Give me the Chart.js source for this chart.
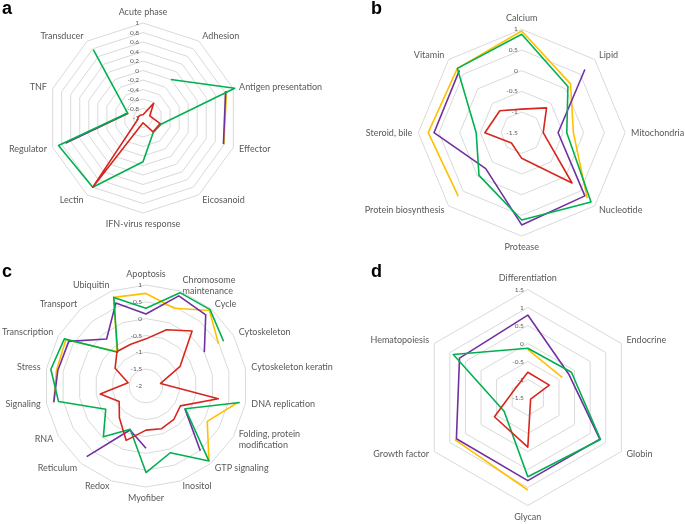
<!DOCTYPE html>
<html><head><meta charset="utf-8">
<script src="https://cdn.jsdelivr.net/npm/chart.js@4/dist/chart.umd.min.js"></script>
<style>
html,body{margin:0;padding:0;background:#fff}
body{width:685px;height:524px;position:relative;overflow:hidden}
canvas{position:absolute;left:0;top:0}
.tag{position:absolute;font:bold 18px "Liberation Sans",Arial,sans-serif;line-height:18px;color:#000}
</style></head><body>
<canvas id="ca" width="685" height="524"></canvas>
<canvas id="cb" width="685" height="524"></canvas>
<canvas id="cc" width="685" height="524"></canvas>
<canvas id="cd" width="685" height="524"></canvas>
<div class="tag" style="left:2px;top:-1px">a</div>
<div class="tag" style="left:371px;top:-1px">b</div>
<div class="tag" style="left:2px;top:262px">c</div>
<div class="tag" style="left:371px;top:262px">d</div>
<script>
// ---------- data ----------
const catsA = ['Acute phase','Adhesion','Antigen presentation','Effector','Eicosanoid','IFN-virus response','Lectin','Regulator','TNF','Transducer'];
const redA    = [-0.93,-0.62,-0.85,-0.62,-0.64,-0.90, 0.80,-0.88,-0.90,-0.92];
const greenA  = [null, 0.00, 1.03,-0.59,-0.63,-0.08, 0.80, 0.87,-0.66, 0.78];
const purpleA = [null, null, 0.83, 0.78, null, null, null, 0.71,-0.67, null];
const yellowA = [null, null, 0.85, 0.79, null, null, null, 0.73,-0.68, null];
const ticksA  = [1,0.8,0.6,0.4,0.2,0,-0.2,-0.4,-0.6,-0.8,-1];

const catsB = ['Calcium','Lipid','Mitochondria','Nucleotide','Protease','Protein biosynthesis','Steroid, bile','Vitamin'];
const redB    = [-0.93,-0.65,-0.98, 0.22,-0.88,-1.15,-0.61,-0.75];
const greenB  = [ 0.88, 0.08,-0.41, 0.87, 0.61,-0.04,-0.40, 0.70];
const purpleB = [ null, 0.66,-0.62, 0.66, 0.73,-0.27, 0.62, 0.63];
const yellowB = [ 0.96, 0.17,-0.25, 0.74, null, 0.67, 0.76, 0.70];
const ticksB  = [1,0.5,0,-0.5,-1,-1.5];

const catsC = ['Apoptosis',['Chromosome','maintenance'],'Cycle','Cytoskeleton','Cytoskeleton keratin','DNA replication',['Folding, protein','modification'],'GTP signaling','Inositol','Myofiber','Redox','Reticulum','RNA','Signaling','Stress','Transcription','Transport','Ubiquitin'];
const redC    = [-0.60,-0.22, 0.13,-0.83,-1.56, 0.18,-0.82,-0.71,-0.65,-0.69,-0.28,-0.77,-1.08,-0.62,-1.46,-0.94,-0.66,-0.68];
const greenC  = [ 0.31, 0.95, 0.96, 0.66, null, 0.83,-0.65, 0.91, 0.11, 0.57,-0.63,-0.03,-0.62, 0.64, 0.87, 0.80,-0.69, 0.80];
const purpleC = [ 0.14, 0.85, 0.76, 0.00, null, null,-0.67, 0.51, null,-0.15,-0.61, 0.74, null, 0.78, 0.66, 0.65,-0.18, 0.62];
const yellowC = [ 0.75, 0.46, 0.93, 0.49, null, 0.78, 0.10, 0.91, null, null, null, null, null, 0.79, 0.70, 0.75,-0.66, 0.80];
const ticksC  = [1,0.5,0,-0.5,-1,-1.5,-2];

const catsD = ['Differentiation','Endocrine','Globin','Glycan','Growth factor','Hematopoiesis'];
const redD    = [-0.80,-0.81,-1.41,-0.12,-0.43,-1.07];
const greenD  = [-0.13,-0.10, 0.83, 0.70,-0.74, 0.89];
const purpleD = [ 0.79,-0.19, 0.81, 0.81, 0.79, 0.69];
const yellowD = [-0.16,-0.39, null, 1.07, 0.84, null];
const ticksD  = [1.5,1,0.5,0,-0.5,-1,-1.5];

// ---------- layout (centre / radius of each radar on the page) ----------
const GEOM = {
  ca:{x:143,  y:118,  r:95},
  cb:{x:521.7,y:132.7,r:103.4},
  cc:{x:146,  y:386,  r:101},
  cd:{x:527.8,y:397.5,r:108}
};

const RL = Chart.RadialLinearScale || Chart.registry.getScale('radialLinear');
const oSCP = RL.prototype.setCenterPoint;
RL.prototype.setCenterPoint = function(l,r,t,b){
  const g = GEOM[this.chart.canvas.id];
  if(!g) return oSCP.call(this,l,r,t,b);
  this.xCenter = g.x; this.yCenter = g.y; this.drawingArea = g.r;
};
const oFit = RL.prototype.fit;
RL.prototype.fit = function(){
  oFit.call(this);
  const items = this._pointLabelItems || [];
  const n = items.length;
  items.forEach((it,i)=>{
    const ang = Math.round(360*i/n)%360;
    const h = it.bottom-it.top;
    let dy = 0;
    if(ang===0||ang===180||ang===90||ang===270) dy=0;
    else if(ang<90||ang>270) dy=h/2; else dy=-h/2;
    it.y+=dy; it.top+=dy; it.bottom+=dy;
  });
};

const tickLab = {
  id:'tickLab',
  beforeDatasetsDraw(chart,args,opts){
    const s = chart.scales.r, ctx = chart.ctx;
    ctx.save();
    ctx.font = '6.5px Lato, "Liberation Sans", sans-serif';
    ctx.fillStyle = '#595959';
    ctx.textAlign = 'right'; ctx.textBaseline = 'middle';
    opts.values.forEach(v=>{
      const d = s.getDistanceFromCenterForValue(v);
      ctx.fillText(String(v), s.xCenter-4, s.yCenter-d);
    });
    ctx.restore();
  }
};

const COL = {red:'#d7261e', green:'#00b050', purple:'#7030a0', yellow:'#ffc000'};

function make(id, cats, red, green, purple, yellow, ticks, min, max, step){
  const ds = (data,c)=>({data, borderColor:c, backgroundColor:c, borderWidth:1.6, pointRadius:0, fill:false, spanGaps:false, tension:0});
  new Chart(document.getElementById(id), {
    type:'radar',
    data:{labels:cats, datasets:[ds(red,COL.red), ds(green,COL.green), ds(purple,COL.purple), ds(yellow,COL.yellow)]},
    options:{
      responsive:false, animation:false, devicePixelRatio:1,
      layout:{padding:0},
      plugins:{legend:{display:false}, tooltip:{enabled:false}, tickLab:{values:ticks}},
      elements:{line:{borderJoinStyle:'round'}},
      scales:{r:{
        min, max, beginAtZero:false,
        ticks:{display:false, stepSize:step},
        grid:{color:'#d9d9d9', lineWidth:1},
        angleLines:{display:false},
        pointLabels:{display:true, color:'#595959', padding:6, font:{family:'Lato', size:9}}
      }}
    },
    plugins:[tickLab]
  });
}

make('ca', catsA, redA, greenA, purpleA, yellowA, ticksA, -1, 1, 0.2);
make('cb', catsB, redB, greenB, purpleB, yellowB, ticksB, -1.5, 1, 0.5);
make('cc', catsC, redC, greenC, purpleC, yellowC, ticksC, -2, 1, 0.5);
make('cd', catsD, redD, greenD, purpleD, yellowD, ticksD, -1.5, 1.5, 0.5);
</script>
</body></html>
